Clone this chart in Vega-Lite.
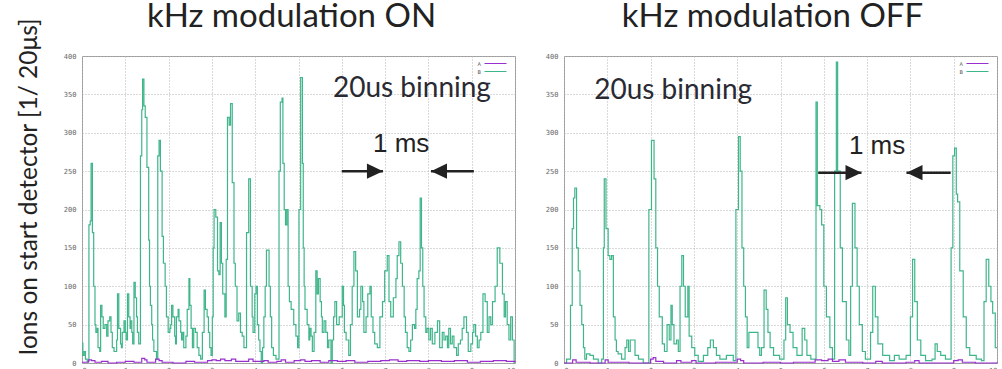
{
  "$schema": "https://vega.github.io/schema/vega-lite/v6.json",
  "background": "white",
  "padding": {"left": 17, "top": 0, "right": 0, "bottom": 0},
  "spacing": 26,
  "title": {"text": "Ions on start detector [1/ 20μs]", "orient": "left", "anchor": "middle", "font": "Lato", "fontSize": 24.5, "fontWeight": "normal", "color": "#222222", "offset": 20},
  "config": {
    "view": {"stroke": "#9a9a9a", "strokeWidth": 1},
    "axis": {
      "domain": false,
      "ticks": false,
      "grid": true,
      "gridColor": "#b5b5b5",
      "gridDash": [1, 2],
      "gridWidth": 1,
      "labelOverlap": false,
      "labelFont": "DejaVu Sans Mono",
      "labelFontSize": 7,
      "labelColor": "#666666"
    },
    "legend": {
      "orient": "none", "legendX": 409, "legendY": 3, "title": null, "padding": 0,
      "symbolType": "M-2.75,0H2.75", "symbolSize": 64, "symbolStrokeWidth": 1, "symbolFillColor": "transparent",
      "labelFontSize": 5, "labelFont": "DejaVu Sans", "labelColor": "#555555",
      "labelAlign": "right", "labelOffset": -19, "rowPadding": 0
    }
  },
  "resolve": {"legend": {"color": "independent"}},
  "datasets": {
    "counts": [
      {"panel":"ON","series":"B","time":0.00,"count":26},{"panel":"ON","series":"B","time":0.02,"count":10},{"panel":"ON","series":"B","time":0.05,"count":15},{"panel":"ON","series":"B","time":0.08,"count":5},{"panel":"ON","series":"B","time":0.12,"count":2},{"panel":"ON","series":"B","time":0.16,"count":180},{"panel":"ON","series":"B","time":0.19,"count":185},{"panel":"ON","series":"B","time":0.21,"count":260},{"panel":"ON","series":"B","time":0.24,"count":170},{"panel":"ON","series":"B","time":0.27,"count":100},{"panel":"ON","series":"B","time":0.30,"count":50},{"panel":"ON","series":"B","time":0.32,"count":40},{"panel":"ON","series":"B","time":0.35,"count":45},{"panel":"ON","series":"B","time":0.37,"count":20},{"panel":"ON","series":"B","time":0.41,"count":15},{"panel":"ON","series":"B","time":0.43,"count":75},{"panel":"ON","series":"B","time":0.46,"count":60},{"panel":"ON","series":"B","time":0.49,"count":45},{"panel":"ON","series":"B","time":0.53,"count":50},{"panel":"ON","series":"B","time":0.57,"count":35},{"panel":"ON","series":"B","time":0.60,"count":55},{"panel":"ON","series":"B","time":0.64,"count":60},{"panel":"ON","series":"B","time":0.67,"count":40},{"panel":"ON","series":"B","time":0.70,"count":20},{"panel":"ON","series":"B","time":0.74,"count":15},{"panel":"ON","series":"B","time":0.80,"count":30},{"panel":"ON","series":"B","time":0.82,"count":90},{"panel":"ON","series":"B","time":0.85,"count":45},{"panel":"ON","series":"B","time":0.89,"count":25},{"panel":"ON","series":"B","time":0.91,"count":20},{"panel":"ON","series":"B","time":0.93,"count":40},{"panel":"ON","series":"B","time":0.97,"count":55},{"panel":"ON","series":"B","time":1.00,"count":40},{"panel":"ON","series":"B","time":1.02,"count":30},{"panel":"ON","series":"B","time":1.05,"count":90},{"panel":"ON","series":"B","time":1.08,"count":60},{"panel":"ON","series":"B","time":1.11,"count":45},{"panel":"ON","series":"B","time":1.12,"count":55},{"panel":"ON","series":"B","time":1.15,"count":40},{"panel":"ON","series":"B","time":1.17,"count":25},{"panel":"ON","series":"B","time":1.20,"count":105},{"panel":"ON","series":"B","time":1.23,"count":85},{"panel":"ON","series":"B","time":1.26,"count":60},{"panel":"ON","series":"B","time":1.28,"count":40},{"panel":"ON","series":"B","time":1.31,"count":25},{"panel":"ON","series":"B","time":1.35,"count":270},{"panel":"ON","series":"B","time":1.38,"count":330},{"panel":"ON","series":"B","time":1.40,"count":370},{"panel":"ON","series":"B","time":1.43,"count":335},{"panel":"ON","series":"B","time":1.46,"count":320},{"panel":"ON","series":"B","time":1.50,"count":255},{"panel":"ON","series":"B","time":1.54,"count":160},{"panel":"ON","series":"B","time":1.56,"count":100},{"panel":"ON","series":"B","time":1.58,"count":75},{"panel":"ON","series":"B","time":1.61,"count":50},{"panel":"ON","series":"B","time":1.63,"count":30},{"panel":"ON","series":"B","time":1.66,"count":15},{"panel":"ON","series":"B","time":1.70,"count":15},{"panel":"ON","series":"B","time":1.72,"count":5},{"panel":"ON","series":"B","time":1.75,"count":270},{"panel":"ON","series":"B","time":1.78,"count":290},{"panel":"ON","series":"B","time":1.81,"count":250},{"panel":"ON","series":"B","time":1.85,"count":165},{"panel":"ON","series":"B","time":1.88,"count":130},{"panel":"ON","series":"B","time":1.92,"count":100},{"panel":"ON","series":"B","time":1.95,"count":60},{"panel":"ON","series":"B","time":1.99,"count":40},{"panel":"ON","series":"B","time":2.03,"count":45},{"panel":"ON","series":"B","time":2.05,"count":50},{"panel":"ON","series":"B","time":2.07,"count":75},{"panel":"ON","series":"B","time":2.10,"count":60},{"panel":"ON","series":"B","time":2.14,"count":35},{"panel":"ON","series":"B","time":2.16,"count":25},{"panel":"ON","series":"B","time":2.18,"count":60},{"panel":"ON","series":"B","time":2.22,"count":70},{"panel":"ON","series":"B","time":2.24,"count":55},{"panel":"ON","series":"B","time":2.28,"count":40},{"panel":"ON","series":"B","time":2.30,"count":30},{"panel":"ON","series":"B","time":2.33,"count":40},{"panel":"ON","series":"B","time":2.35,"count":20},{"panel":"ON","series":"B","time":2.40,"count":35},{"panel":"ON","series":"B","time":2.43,"count":70},{"panel":"ON","series":"B","time":2.47,"count":110},{"panel":"ON","series":"B","time":2.49,"count":75},{"panel":"ON","series":"B","time":2.52,"count":45},{"panel":"ON","series":"B","time":2.55,"count":20},{"panel":"ON","series":"B","time":2.58,"count":45},{"panel":"ON","series":"B","time":2.62,"count":40},{"panel":"ON","series":"B","time":2.66,"count":20},{"panel":"ON","series":"B","time":2.70,"count":10},{"panel":"ON","series":"B","time":2.74,"count":5},{"panel":"ON","series":"B","time":2.78,"count":40},{"panel":"ON","series":"B","time":2.82,"count":95},{"panel":"ON","series":"B","time":2.85,"count":70},{"panel":"ON","series":"B","time":2.89,"count":60},{"panel":"ON","series":"B","time":2.92,"count":40},{"panel":"ON","series":"B","time":2.95,"count":20},{"panel":"ON","series":"B","time":2.98,"count":10},{"panel":"ON","series":"B","time":3.01,"count":60},{"panel":"ON","series":"B","time":3.03,"count":150},{"panel":"ON","series":"B","time":3.05,"count":200},{"panel":"ON","series":"B","time":3.09,"count":190},{"panel":"ON","series":"B","time":3.13,"count":120},{"panel":"ON","series":"B","time":3.16,"count":115},{"panel":"ON","series":"B","time":3.19,"count":183},{"panel":"ON","series":"B","time":3.22,"count":130},{"panel":"ON","series":"B","time":3.25,"count":90},{"panel":"ON","series":"B","time":3.30,"count":60},{"panel":"ON","series":"B","time":3.33,"count":135},{"panel":"ON","series":"B","time":3.36,"count":320},{"panel":"ON","series":"B","time":3.40,"count":310},{"panel":"ON","series":"B","time":3.43,"count":338},{"panel":"ON","series":"B","time":3.47,"count":235},{"panel":"ON","series":"B","time":3.51,"count":130},{"panel":"ON","series":"B","time":3.54,"count":100},{"panel":"ON","series":"B","time":3.58,"count":55},{"panel":"ON","series":"B","time":3.62,"count":65},{"panel":"ON","series":"B","time":3.66,"count":40},{"panel":"ON","series":"B","time":3.70,"count":35},{"panel":"ON","series":"B","time":3.74,"count":20},{"panel":"ON","series":"B","time":3.80,"count":170},{"panel":"ON","series":"B","time":3.85,"count":240},{"panel":"ON","series":"B","time":3.89,"count":100},{"panel":"ON","series":"B","time":3.93,"count":60},{"panel":"ON","series":"B","time":3.95,"count":40},{"panel":"ON","series":"B","time":3.99,"count":90},{"panel":"ON","series":"B","time":4.02,"count":100},{"panel":"ON","series":"B","time":4.05,"count":50},{"panel":"ON","series":"B","time":4.08,"count":30},{"panel":"ON","series":"B","time":4.11,"count":15},{"panel":"ON","series":"B","time":4.14,"count":0},{"panel":"ON","series":"B","time":4.17,"count":20},{"panel":"ON","series":"B","time":4.20,"count":60},{"panel":"ON","series":"B","time":4.23,"count":100},{"panel":"ON","series":"B","time":4.26,"count":147},{"panel":"ON","series":"B","time":4.32,"count":100},{"panel":"ON","series":"B","time":4.35,"count":60},{"panel":"ON","series":"B","time":4.38,"count":20},{"panel":"ON","series":"B","time":4.42,"count":10},{"panel":"ON","series":"B","time":4.48,"count":5},{"panel":"ON","series":"B","time":4.55,"count":250},{"panel":"ON","series":"B","time":4.58,"count":340},{"panel":"ON","series":"B","time":4.62,"count":345},{"panel":"ON","series":"B","time":4.64,"count":260},{"panel":"ON","series":"B","time":4.67,"count":200},{"panel":"ON","series":"B","time":4.70,"count":180},{"panel":"ON","series":"B","time":4.73,"count":200},{"panel":"ON","series":"B","time":4.76,"count":100},{"panel":"ON","series":"B","time":4.79,"count":80},{"panel":"ON","series":"B","time":4.83,"count":70},{"panel":"ON","series":"B","time":4.89,"count":50},{"panel":"ON","series":"B","time":4.94,"count":35},{"panel":"ON","series":"B","time":4.98,"count":20},{"panel":"ON","series":"B","time":5.01,"count":200},{"panel":"ON","series":"B","time":5.05,"count":372},{"panel":"ON","series":"B","time":5.09,"count":260},{"panel":"ON","series":"B","time":5.11,"count":150},{"panel":"ON","series":"B","time":5.13,"count":100},{"panel":"ON","series":"B","time":5.15,"count":70},{"panel":"ON","series":"B","time":5.20,"count":50},{"panel":"ON","series":"B","time":5.24,"count":30},{"panel":"ON","series":"B","time":5.26,"count":45},{"panel":"ON","series":"B","time":5.29,"count":35},{"panel":"ON","series":"B","time":5.32,"count":15},{"panel":"ON","series":"B","time":5.36,"count":40},{"panel":"ON","series":"B","time":5.40,"count":120},{"panel":"ON","series":"B","time":5.43,"count":90},{"panel":"ON","series":"B","time":5.46,"count":110},{"panel":"ON","series":"B","time":5.50,"count":80},{"panel":"ON","series":"B","time":5.53,"count":60},{"panel":"ON","series":"B","time":5.55,"count":40},{"panel":"ON","series":"B","time":5.59,"count":55},{"panel":"ON","series":"B","time":5.63,"count":40},{"panel":"ON","series":"B","time":5.67,"count":20},{"panel":"ON","series":"B","time":5.70,"count":30},{"panel":"ON","series":"B","time":5.75,"count":0},{"panel":"ON","series":"B","time":5.78,"count":30},{"panel":"ON","series":"B","time":5.81,"count":60},{"panel":"ON","series":"B","time":5.84,"count":80},{"panel":"ON","series":"B","time":5.88,"count":50},{"panel":"ON","series":"B","time":5.94,"count":60},{"panel":"ON","series":"B","time":6.01,"count":100},{"panel":"ON","series":"B","time":6.04,"count":75},{"panel":"ON","series":"B","time":6.06,"count":40},{"panel":"ON","series":"B","time":6.10,"count":30},{"panel":"ON","series":"B","time":6.16,"count":10},{"panel":"ON","series":"B","time":6.20,"count":50},{"panel":"ON","series":"B","time":6.24,"count":100},{"panel":"ON","series":"B","time":6.28,"count":145},{"panel":"ON","series":"B","time":6.32,"count":120},{"panel":"ON","series":"B","time":6.36,"count":60},{"panel":"ON","series":"B","time":6.41,"count":70},{"panel":"ON","series":"B","time":6.44,"count":100},{"panel":"ON","series":"B","time":6.48,"count":80},{"panel":"ON","series":"B","time":6.51,"count":40},{"panel":"ON","series":"B","time":6.56,"count":60},{"panel":"ON","series":"B","time":6.60,"count":90},{"panel":"ON","series":"B","time":6.65,"count":100},{"panel":"ON","series":"B","time":6.68,"count":60},{"panel":"ON","series":"B","time":6.72,"count":40},{"panel":"ON","series":"B","time":6.76,"count":25},{"panel":"ON","series":"B","time":6.82,"count":20},{"panel":"ON","series":"B","time":6.88,"count":60},{"panel":"ON","series":"B","time":6.94,"count":80},{"panel":"ON","series":"B","time":6.99,"count":120},{"panel":"ON","series":"B","time":7.05,"count":140},{"panel":"ON","series":"B","time":7.09,"count":80},{"panel":"ON","series":"B","time":7.13,"count":60},{"panel":"ON","series":"B","time":7.19,"count":85},{"panel":"ON","series":"B","time":7.25,"count":110},{"panel":"ON","series":"B","time":7.28,"count":140},{"panel":"ON","series":"B","time":7.32,"count":158},{"panel":"ON","series":"B","time":7.36,"count":130},{"panel":"ON","series":"B","time":7.40,"count":100},{"panel":"ON","series":"B","time":7.44,"count":60},{"panel":"ON","series":"B","time":7.47,"count":40},{"panel":"ON","series":"B","time":7.51,"count":20},{"panel":"ON","series":"B","time":7.55,"count":15},{"panel":"ON","series":"B","time":7.59,"count":30},{"panel":"ON","series":"B","time":7.63,"count":50},{"panel":"ON","series":"B","time":7.68,"count":45},{"panel":"ON","series":"B","time":7.71,"count":70},{"panel":"ON","series":"B","time":7.74,"count":110},{"panel":"ON","series":"B","time":7.78,"count":120},{"panel":"ON","series":"B","time":7.81,"count":215},{"panel":"ON","series":"B","time":7.84,"count":150},{"panel":"ON","series":"B","time":7.87,"count":100},{"panel":"ON","series":"B","time":7.90,"count":60},{"panel":"ON","series":"B","time":7.94,"count":40},{"panel":"ON","series":"B","time":7.97,"count":45},{"panel":"ON","series":"B","time":8.01,"count":30},{"panel":"ON","series":"B","time":8.05,"count":45},{"panel":"ON","series":"B","time":8.09,"count":25},{"panel":"ON","series":"B","time":8.15,"count":40},{"panel":"ON","series":"B","time":8.21,"count":55},{"panel":"ON","series":"B","time":8.26,"count":20},{"panel":"ON","series":"B","time":8.32,"count":40},{"panel":"ON","series":"B","time":8.36,"count":30},{"panel":"ON","series":"B","time":8.40,"count":35},{"panel":"ON","series":"B","time":8.44,"count":20},{"panel":"ON","series":"B","time":8.47,"count":45},{"panel":"ON","series":"B","time":8.51,"count":25},{"panel":"ON","series":"B","time":8.55,"count":35},{"panel":"ON","series":"B","time":8.59,"count":20},{"panel":"ON","series":"B","time":8.65,"count":10},{"panel":"ON","series":"B","time":8.69,"count":25},{"panel":"ON","series":"B","time":8.74,"count":30},{"panel":"ON","series":"B","time":8.78,"count":45},{"panel":"ON","series":"B","time":8.82,"count":60},{"panel":"ON","series":"B","time":8.88,"count":40},{"panel":"ON","series":"B","time":8.92,"count":15},{"panel":"ON","series":"B","time":8.98,"count":25},{"panel":"ON","series":"B","time":9.02,"count":40},{"panel":"ON","series":"B","time":9.05,"count":50},{"panel":"ON","series":"B","time":9.09,"count":35},{"panel":"ON","series":"B","time":9.13,"count":20},{"panel":"ON","series":"B","time":9.17,"count":30},{"panel":"ON","series":"B","time":9.21,"count":40},{"panel":"ON","series":"B","time":9.26,"count":90},{"panel":"ON","series":"B","time":9.31,"count":80},{"panel":"ON","series":"B","time":9.36,"count":40},{"panel":"ON","series":"B","time":9.40,"count":60},{"panel":"ON","series":"B","time":9.44,"count":50},{"panel":"ON","series":"B","time":9.48,"count":80},{"panel":"ON","series":"B","time":9.54,"count":100},{"panel":"ON","series":"B","time":9.59,"count":150},{"panel":"ON","series":"B","time":9.65,"count":130},{"panel":"ON","series":"B","time":9.71,"count":90},{"panel":"ON","series":"B","time":9.75,"count":60},{"panel":"ON","series":"B","time":9.78,"count":80},{"panel":"ON","series":"B","time":9.82,"count":50},{"panel":"ON","series":"B","time":9.86,"count":30},{"panel":"ON","series":"B","time":9.90,"count":60},{"panel":"ON","series":"B","time":9.94,"count":30},{"panel":"ON","series":"B","time":9.98,"count":0},{"panel":"ON","series":"B","time":10.0,"count":0},

      {"panel":"ON","series":"A","time":0.00,"count":1},{"panel":"ON","series":"A","time":0.15,"count":4},{"panel":"ON","series":"A","time":0.22,"count":3},{"panel":"ON","series":"A","time":0.30,"count":1},{"panel":"ON","series":"A","time":0.45,"count":2},{"panel":"ON","series":"A","time":0.60,"count":0},{"panel":"ON","series":"A","time":0.80,"count":1},{"panel":"ON","series":"A","time":1.00,"count":2},{"panel":"ON","series":"A","time":1.20,"count":1},{"panel":"ON","series":"A","time":1.38,"count":6},{"panel":"ON","series":"A","time":1.45,"count":4},{"panel":"ON","series":"A","time":1.50,"count":1},{"panel":"ON","series":"A","time":1.70,"count":5},{"panel":"ON","series":"A","time":1.78,"count":3},{"panel":"ON","series":"A","time":1.85,"count":1},{"panel":"ON","series":"A","time":2.10,"count":0},{"panel":"ON","series":"A","time":2.40,"count":2},{"panel":"ON","series":"A","time":2.60,"count":1},{"panel":"ON","series":"A","time":2.90,"count":3},{"panel":"ON","series":"A","time":3.00,"count":4},{"panel":"ON","series":"A","time":3.10,"count":3},{"panel":"ON","series":"A","time":3.20,"count":5},{"panel":"ON","series":"A","time":3.30,"count":3},{"panel":"ON","series":"A","time":3.45,"count":5},{"panel":"ON","series":"A","time":3.55,"count":2},{"panel":"ON","series":"A","time":3.85,"count":5},{"panel":"ON","series":"A","time":3.95,"count":2},{"panel":"ON","series":"A","time":4.20,"count":3},{"panel":"ON","series":"A","time":4.30,"count":1},{"panel":"ON","series":"A","time":4.50,"count":2},{"panel":"ON","series":"A","time":4.60,"count":4},{"panel":"ON","series":"A","time":4.70,"count":1},{"panel":"ON","series":"A","time":4.90,"count":3},{"panel":"ON","series":"A","time":5.05,"count":4},{"panel":"ON","series":"A","time":5.15,"count":2},{"panel":"ON","series":"A","time":5.30,"count":3},{"panel":"ON","series":"A","time":5.50,"count":1},{"panel":"ON","series":"A","time":5.70,"count":3},{"panel":"ON","series":"A","time":5.90,"count":2},{"panel":"ON","series":"A","time":6.10,"count":3},{"panel":"ON","series":"A","time":6.30,"count":1},{"panel":"ON","series":"A","time":6.60,"count":2},{"panel":"ON","series":"A","time":6.90,"count":3},{"panel":"ON","series":"A","time":7.10,"count":4},{"panel":"ON","series":"A","time":7.30,"count":2},{"panel":"ON","series":"A","time":7.50,"count":3},{"panel":"ON","series":"A","time":7.80,"count":2},{"panel":"ON","series":"A","time":8.00,"count":3},{"panel":"ON","series":"A","time":8.30,"count":2},{"panel":"ON","series":"A","time":8.60,"count":3},{"panel":"ON","series":"A","time":8.90,"count":1},{"panel":"ON","series":"A","time":9.20,"count":2},{"panel":"ON","series":"A","time":9.50,"count":3},{"panel":"ON","series":"A","time":9.80,"count":2},{"panel":"ON","series":"A","time":10.0,"count":1},

      {"panel":"OFF","series":"B","time":0.00,"count":0},{"panel":"OFF","series":"B","time":0.06,"count":5},{"panel":"OFF","series":"B","time":0.12,"count":5},{"panel":"OFF","series":"B","time":0.15,"count":75},{"panel":"OFF","series":"B","time":0.19,"count":175},{"panel":"OFF","series":"B","time":0.22,"count":215},{"panel":"OFF","series":"B","time":0.25,"count":228},{"panel":"OFF","series":"B","time":0.29,"count":150},{"panel":"OFF","series":"B","time":0.33,"count":120},{"panel":"OFF","series":"B","time":0.37,"count":75},{"panel":"OFF","series":"B","time":0.41,"count":50},{"panel":"OFF","series":"B","time":0.45,"count":20},{"panel":"OFF","series":"B","time":0.48,"count":5},{"panel":"OFF","series":"B","time":0.52,"count":12},{"panel":"OFF","series":"B","time":0.60,"count":10},{"panel":"OFF","series":"B","time":0.68,"count":5},{"panel":"OFF","series":"B","time":0.79,"count":0},{"panel":"OFF","series":"B","time":0.87,"count":5},{"panel":"OFF","series":"B","time":0.91,"count":150},{"panel":"OFF","series":"B","time":0.93,"count":240},{"panel":"OFF","series":"B","time":0.97,"count":175},{"panel":"OFF","series":"B","time":1.02,"count":140},{"panel":"OFF","series":"B","time":1.06,"count":135},{"panel":"OFF","series":"B","time":1.10,"count":140},{"panel":"OFF","series":"B","time":1.14,"count":60},{"panel":"OFF","series":"B","time":1.18,"count":30},{"panel":"OFF","series":"B","time":1.21,"count":15},{"panel":"OFF","series":"B","time":1.25,"count":12},{"panel":"OFF","series":"B","time":1.33,"count":5},{"panel":"OFF","series":"B","time":1.41,"count":20},{"panel":"OFF","series":"B","time":1.45,"count":30},{"panel":"OFF","series":"B","time":1.49,"count":15},{"panel":"OFF","series":"B","time":1.53,"count":30},{"panel":"OFF","series":"B","time":1.60,"count":30},{"panel":"OFF","series":"B","time":1.64,"count":10},{"panel":"OFF","series":"B","time":1.72,"count":5},{"panel":"OFF","series":"B","time":1.83,"count":0},{"panel":"OFF","series":"B","time":1.96,"count":200},{"panel":"OFF","series":"B","time":2.02,"count":290},{"panel":"OFF","series":"B","time":2.08,"count":240},{"panel":"OFF","series":"B","time":2.12,"count":150},{"panel":"OFF","series":"B","time":2.16,"count":100},{"panel":"OFF","series":"B","time":2.20,"count":60},{"panel":"OFF","series":"B","time":2.27,"count":25},{"panel":"OFF","series":"B","time":2.32,"count":15},{"panel":"OFF","series":"B","time":2.38,"count":50},{"panel":"OFF","series":"B","time":2.43,"count":30},{"panel":"OFF","series":"B","time":2.47,"count":75},{"panel":"OFF","series":"B","time":2.50,"count":50},{"panel":"OFF","series":"B","time":2.54,"count":25},{"panel":"OFF","series":"B","time":2.60,"count":30},{"panel":"OFF","series":"B","time":2.64,"count":15},{"panel":"OFF","series":"B","time":2.68,"count":100},{"panel":"OFF","series":"B","time":2.72,"count":140},{"panel":"OFF","series":"B","time":2.76,"count":100},{"panel":"OFF","series":"B","time":2.80,"count":60},{"panel":"OFF","series":"B","time":2.86,"count":100},{"panel":"OFF","series":"B","time":2.89,"count":35},{"panel":"OFF","series":"B","time":2.95,"count":20},{"panel":"OFF","series":"B","time":3.02,"count":10},{"panel":"OFF","series":"B","time":3.10,"count":2},{"panel":"OFF","series":"B","time":3.22,"count":10},{"panel":"OFF","series":"B","time":3.32,"count":20},{"panel":"OFF","series":"B","time":3.38,"count":30},{"panel":"OFF","series":"B","time":3.45,"count":20},{"panel":"OFF","series":"B","time":3.52,"count":10},{"panel":"OFF","series":"B","time":3.60,"count":5},{"panel":"OFF","series":"B","time":3.75,"count":10},{"panel":"OFF","series":"B","time":3.91,"count":3},{"panel":"OFF","series":"B","time":3.97,"count":200},{"panel":"OFF","series":"B","time":4.03,"count":295},{"panel":"OFF","series":"B","time":4.07,"count":250},{"panel":"OFF","series":"B","time":4.11,"count":150},{"panel":"OFF","series":"B","time":4.15,"count":100},{"panel":"OFF","series":"B","time":4.19,"count":60},{"panel":"OFF","series":"B","time":4.23,"count":20},{"panel":"OFF","series":"B","time":4.27,"count":40},{"panel":"OFF","series":"B","time":4.36,"count":40},{"panel":"OFF","series":"B","time":4.45,"count":40},{"panel":"OFF","series":"B","time":4.48,"count":20},{"panel":"OFF","series":"B","time":4.52,"count":10},{"panel":"OFF","series":"B","time":4.56,"count":20},{"panel":"OFF","series":"B","time":4.62,"count":95},{"panel":"OFF","series":"B","time":4.67,"count":70},{"panel":"OFF","series":"B","time":4.71,"count":40},{"panel":"OFF","series":"B","time":4.76,"count":20},{"panel":"OFF","series":"B","time":4.84,"count":10},{"panel":"OFF","series":"B","time":4.98,"count":5},{"panel":"OFF","series":"B","time":5.08,"count":30},{"panel":"OFF","series":"B","time":5.12,"count":85},{"panel":"OFF","series":"B","time":5.16,"count":50},{"panel":"OFF","series":"B","time":5.22,"count":40},{"panel":"OFF","series":"B","time":5.29,"count":20},{"panel":"OFF","series":"B","time":5.38,"count":10},{"panel":"OFF","series":"B","time":5.50,"count":45},{"panel":"OFF","series":"B","time":5.56,"count":30},{"panel":"OFF","series":"B","time":5.61,"count":10},{"panel":"OFF","series":"B","time":5.70,"count":5},{"panel":"OFF","series":"B","time":5.82,"count":340},{"panel":"OFF","series":"B","time":5.85,"count":205},{"panel":"OFF","series":"B","time":5.91,"count":200},{"panel":"OFF","series":"B","time":5.95,"count":180},{"panel":"OFF","series":"B","time":6.00,"count":100},{"panel":"OFF","series":"B","time":6.06,"count":60},{"panel":"OFF","series":"B","time":6.14,"count":20},{"panel":"OFF","series":"B","time":6.20,"count":5},{"panel":"OFF","series":"B","time":6.25,"count":250},{"panel":"OFF","series":"B","time":6.29,"count":392},{"panel":"OFF","series":"B","time":6.32,"count":250},{"panel":"OFF","series":"B","time":6.38,"count":150},{"panel":"OFF","series":"B","time":6.43,"count":80},{"panel":"OFF","series":"B","time":6.52,"count":30},{"panel":"OFF","series":"B","time":6.58,"count":10},{"panel":"OFF","series":"B","time":6.62,"count":100},{"panel":"OFF","series":"B","time":6.66,"count":208},{"panel":"OFF","series":"B","time":6.72,"count":150},{"panel":"OFF","series":"B","time":6.77,"count":100},{"panel":"OFF","series":"B","time":6.82,"count":50},{"panel":"OFF","series":"B","time":6.89,"count":15},{"panel":"OFF","series":"B","time":6.96,"count":5},{"panel":"OFF","series":"B","time":7.08,"count":40},{"panel":"OFF","series":"B","time":7.13,"count":100},{"panel":"OFF","series":"B","time":7.19,"count":60},{"panel":"OFF","series":"B","time":7.25,"count":25},{"panel":"OFF","series":"B","time":7.36,"count":10},{"panel":"OFF","series":"B","time":7.52,"count":3},{"panel":"OFF","series":"B","time":7.63,"count":10},{"panel":"OFF","series":"B","time":7.74,"count":5},{"panel":"OFF","series":"B","time":7.90,"count":10},{"panel":"OFF","series":"B","time":8.00,"count":60},{"panel":"OFF","series":"B","time":8.05,"count":135},{"panel":"OFF","series":"B","time":8.10,"count":80},{"panel":"OFF","series":"B","time":8.16,"count":30},{"panel":"OFF","series":"B","time":8.24,"count":10},{"panel":"OFF","series":"B","time":8.35,"count":3},{"panel":"OFF","series":"B","time":8.50,"count":5},{"panel":"OFF","series":"B","time":8.57,"count":25},{"panel":"OFF","series":"B","time":8.62,"count":15},{"panel":"OFF","series":"B","time":8.70,"count":10},{"panel":"OFF","series":"B","time":8.81,"count":5},{"panel":"OFF","series":"B","time":8.94,"count":150},{"panel":"OFF","series":"B","time":8.98,"count":270},{"panel":"OFF","series":"B","time":9.02,"count":280},{"panel":"OFF","series":"B","time":9.06,"count":220},{"panel":"OFF","series":"B","time":9.09,"count":210},{"panel":"OFF","series":"B","time":9.14,"count":120},{"panel":"OFF","series":"B","time":9.22,"count":60},{"panel":"OFF","series":"B","time":9.29,"count":20},{"panel":"OFF","series":"B","time":9.37,"count":10},{"panel":"OFF","series":"B","time":9.52,"count":5},{"panel":"OFF","series":"B","time":9.64,"count":3},{"panel":"OFF","series":"B","time":9.70,"count":80},{"panel":"OFF","series":"B","time":9.75,"count":135},{"panel":"OFF","series":"B","time":9.81,"count":100},{"panel":"OFF","series":"B","time":9.86,"count":80},{"panel":"OFF","series":"B","time":9.90,"count":65},{"panel":"OFF","series":"B","time":9.96,"count":20},{"panel":"OFF","series":"B","time":10.0,"count":20},

      {"panel":"OFF","series":"A","time":0.00,"count":0},{"panel":"OFF","series":"A","time":0.20,"count":4},{"panel":"OFF","series":"A","time":0.28,"count":1},{"panel":"OFF","series":"A","time":0.60,"count":0},{"panel":"OFF","series":"A","time":0.95,"count":4},{"panel":"OFF","series":"A","time":1.02,"count":1},{"panel":"OFF","series":"A","time":1.50,"count":0},{"panel":"OFF","series":"A","time":2.00,"count":5},{"panel":"OFF","series":"A","time":2.06,"count":7},{"panel":"OFF","series":"A","time":2.12,"count":2},{"panel":"OFF","series":"A","time":2.30,"count":0},{"panel":"OFF","series":"A","time":2.60,"count":3},{"panel":"OFF","series":"A","time":2.70,"count":1},{"panel":"OFF","series":"A","time":2.95,"count":3},{"panel":"OFF","series":"A","time":3.05,"count":0},{"panel":"OFF","series":"A","time":3.50,"count":1},{"panel":"OFF","series":"A","time":4.00,"count":5},{"panel":"OFF","series":"A","time":4.08,"count":3},{"panel":"OFF","series":"A","time":4.15,"count":0},{"panel":"OFF","series":"A","time":4.60,"count":1},{"panel":"OFF","series":"A","time":5.00,"count":0},{"panel":"OFF","series":"A","time":5.30,"count":1},{"panel":"OFF","series":"A","time":5.80,"count":4},{"panel":"OFF","series":"A","time":5.95,"count":3},{"panel":"OFF","series":"A","time":6.10,"count":5},{"panel":"OFF","series":"A","time":6.20,"count":2},{"panel":"OFF","series":"A","time":6.35,"count":4},{"panel":"OFF","series":"A","time":6.50,"count":1},{"panel":"OFF","series":"A","time":6.90,"count":0},{"panel":"OFF","series":"A","time":7.20,"count":2},{"panel":"OFF","series":"A","time":7.35,"count":0},{"panel":"OFF","series":"A","time":7.90,"count":1},{"panel":"OFF","series":"A","time":8.10,"count":3},{"panel":"OFF","series":"A","time":8.20,"count":0},{"panel":"OFF","series":"A","time":9.00,"count":3},{"panel":"OFF","series":"A","time":9.10,"count":4},{"panel":"OFF","series":"A","time":9.20,"count":1},{"panel":"OFF","series":"A","time":9.50,"count":0},{"panel":"OFF","series":"A","time":10.0,"count":1}
    ],
    "notes": [
      {"panel":"ON","kind":"binning","time":7.62,"count":347,"note":"20us binning"},
      {"panel":"ON","kind":"span","time":7.37,"count":275,"note":"1 ms"},
      {"panel":"OFF","kind":"binning","time":2.52,"count":344,"note":"20us binning"},
      {"panel":"OFF","kind":"span","time":7.23,"count":272,"note":"1 ms"}
    ],
    "arrows": [
      {"panel":"ON","from":6.0,"tip":6.95,"count":250,"dir":"right"},
      {"panel":"ON","from":9.05,"tip":8.06,"count":250,"dir":"left"},
      {"panel":"OFF","from":5.87,"tip":6.87,"count":248,"dir":"right"},
      {"panel":"OFF","from":8.93,"tip":7.91,"count":248,"dir":"left"}
    ]
  },
  "hconcat": [
    {
      "width": 433,
      "height": 307,
      "title": {"text": "kHz modulation ON", "font": "Lato", "fontSize": 33, "fontWeight": "normal", "color": "#222222", "anchor": "middle", "baseline": "alphabetic", "offset": -8, "dx": -7},
      "encoding": {
        "y": {"field": "count", "type": "quantitative", "scale": {"domain": [0, 400], "nice": false},
              "axis": {"values": [0,50,100,150,200,250,300,350,400], "labelPadding": 6, "title": null}}
      },
      "layer": [
        {
          "data": {"name": "counts"},
          "transform": [{"filter": "datum.panel === 'ON'"}],
          "mark": {"type": "line", "interpolate": "step-after", "strokeWidth": 1.2},
          "encoding": {
            "x": {"field": "time", "type": "quantitative", "scale": {"domain": [0, 10], "nice": false},
                  "axis": {"values": [0,1,2,3,4,5,6,7,8,9,10], "title": null, "labelPadding": 3}},
            "color": {"field": "series", "type": "nominal",
                      "scale": {"domain": ["A", "B"], "range": ["#9a2fcf", "#3fb68a"]}}
          }
        },
        {
          "data": {"name": "notes"},
          "transform": [{"filter": "datum.panel === 'ON' && datum.kind === 'binning'"}],
          "mark": {"type": "text", "font": "Lato", "fontSize": 28, "color": "#2a2a33", "align": "center", "baseline": "alphabetic"},
          "encoding": {"x": {"field": "time", "type": "quantitative"}, "text": {"field": "note"}}
        },
        {
          "data": {"name": "notes"},
          "transform": [{"filter": "datum.panel === 'ON' && datum.kind === 'span'"}],
          "mark": {"type": "text", "font": "Liberation Sans", "fontSize": 26, "color": "#222222", "align": "center", "baseline": "alphabetic"},
          "encoding": {"x": {"field": "time", "type": "quantitative"}, "text": {"field": "note"}}
        },
        {
          "data": {"name": "arrows"},
          "transform": [{"filter": "datum.panel === 'ON'"}],
          "mark": {"type": "rule", "color": "#222222", "strokeWidth": 2.5},
          "encoding": {"x": {"field": "from", "type": "quantitative"}, "x2": {"field": "tip"}}
        },
        {
          "data": {"name": "arrows"},
          "transform": [{"filter": "datum.panel === 'ON'"}],
          "mark": {"type": "point", "filled": true, "opacity": 1, "color": "#222222", "size": 256, "strokeWidth": 0},
          "encoding": {"x": {"field": "tip", "type": "quantitative"},
                       "shape": {"field": "dir", "type": "nominal", "legend": null,
                                 "scale": {"domain": ["right", "left"], "range": ["M-2,-0.95L0,0L-2,0.95Z", "M2,-0.95L0,0L2,0.95Z"]}}}
        }
      ]
    },
    {
      "width": 433,
      "height": 307,
      "title": {"text": "kHz modulation OFF", "font": "Lato", "fontSize": 33, "fontWeight": "normal", "color": "#222222", "anchor": "middle", "baseline": "alphabetic", "offset": -8, "dx": -8},
      "encoding": {
        "y": {"field": "count", "type": "quantitative", "scale": {"domain": [0, 400], "nice": false},
              "axis": {"values": [0,50,100,150,200,250,300,350,400], "labelPadding": 6, "title": null}}
      },
      "layer": [
        {
          "data": {"name": "counts"},
          "transform": [{"filter": "datum.panel === 'OFF'"}],
          "mark": {"type": "line", "interpolate": "step-after", "strokeWidth": 1.2},
          "encoding": {
            "x": {"field": "time", "type": "quantitative", "scale": {"domain": [0, 10], "nice": false},
                  "axis": {"values": [0,1,2,3,4,5,6,7,8,9,10], "title": null, "labelPadding": 3}},
            "color": {"field": "series", "type": "nominal",
                      "scale": {"domain": ["A", "B"], "range": ["#9a2fcf", "#3fb68a"]}}
          }
        },
        {
          "data": {"name": "notes"},
          "transform": [{"filter": "datum.panel === 'OFF' && datum.kind === 'binning'"}],
          "mark": {"type": "text", "font": "Lato", "fontSize": 28, "color": "#2a2a33", "align": "center", "baseline": "alphabetic"},
          "encoding": {"x": {"field": "time", "type": "quantitative"}, "text": {"field": "note"}}
        },
        {
          "data": {"name": "notes"},
          "transform": [{"filter": "datum.panel === 'OFF' && datum.kind === 'span'"}],
          "mark": {"type": "text", "font": "Liberation Sans", "fontSize": 26, "color": "#222222", "align": "center", "baseline": "alphabetic"},
          "encoding": {"x": {"field": "time", "type": "quantitative"}, "text": {"field": "note"}}
        },
        {
          "data": {"name": "arrows"},
          "transform": [{"filter": "datum.panel === 'OFF'"}],
          "mark": {"type": "rule", "color": "#222222", "strokeWidth": 2.5},
          "encoding": {"x": {"field": "from", "type": "quantitative"}, "x2": {"field": "tip"}}
        },
        {
          "data": {"name": "arrows"},
          "transform": [{"filter": "datum.panel === 'OFF'"}],
          "mark": {"type": "point", "filled": true, "opacity": 1, "color": "#222222", "size": 256, "strokeWidth": 0},
          "encoding": {"x": {"field": "tip", "type": "quantitative"},
                       "shape": {"field": "dir", "type": "nominal", "legend": null,
                                 "scale": {"domain": ["right", "left"], "range": ["M-2,-0.95L0,0L-2,0.95Z", "M2,-0.95L0,0L2,0.95Z"]}}}
        }
      ]
    }
  ]
}
